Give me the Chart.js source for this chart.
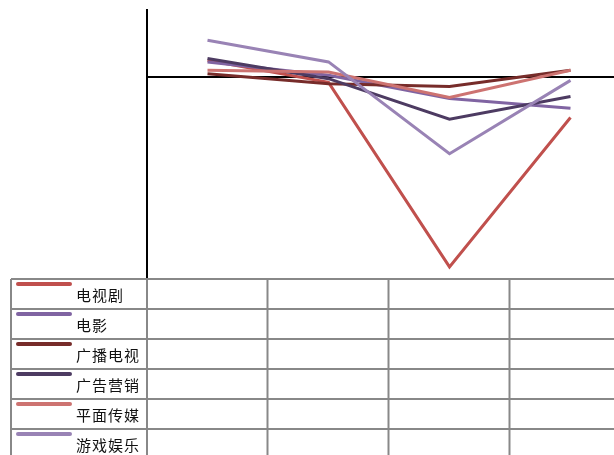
<!DOCTYPE html>
<html>
<head>
<meta charset="utf-8">
<script src="https://cdn.jsdelivr.net/npm/chart.js@4/dist/chart.umd.min.js"></script>
<style>
  html, body { margin: 0; padding: 0; overflow: hidden; background: #fff; }
  #wrap { width: 631px; height: 455px; }
</style>
</head>
<body>
<div id="wrap"><canvas id="chart" width="631" height="455"></canvas></div>
<script>
// 分类（表头未显示）
const categories = ['第1期', '第2期', '第3期', '第4期'];

// 各系列数值（增长率）
const seriesNames = ['电视剧', '电影', '广播电视', '广告营销', '平面传媒', '游戏娱乐'];
const tvDrama     = [0.050, -0.016, -0.567, -0.121];
const film        = [0.045,  0.005, -0.064, -0.093];
const broadcast   = [0.010, -0.020, -0.028,  0.020];
const advertising = [0.055, -0.005, -0.126, -0.058];
const print       = [0.020,  0.015, -0.061,  0.020];
const gaming      = [0.110,  0.045, -0.229, -0.010];
const seriesValues = [tvDrama, film, broadcast, advertising, print, gaming];

const colors = ['#c0504d', '#8064a2', '#772c2a', '#4d3b62', '#cd7371', '#9983b5'];

// 底部数据表：图例 + 空白单元格
const dataTable = {
  id: 'dataTable',
  afterDraw(chart) {
    const { ctx, chartArea, scales: { x } } = chart;
    const rowH = 30, top = chartArea.bottom + 1, left = 11;
    const step = x.getPixelForValue(1) - x.getPixelForValue(0);
    const cols = [left, chartArea.left];
    categories.forEach((c, i) => cols.push(Math.floor(x.getPixelForValue(i) + step / 2) - 0.5));

    ctx.save();
    ctx.strokeStyle = '#888';
    ctx.lineWidth = 2;
    for (let r = 0; r <= seriesNames.length; r++) {
      const y = top + r * rowH;
      ctx.beginPath();
      ctx.moveTo(left, y);
      ctx.lineTo(chartArea.right, y);
      ctx.stroke();
    }
    cols.forEach(cx => {
      ctx.beginPath();
      ctx.moveTo(cx, top);
      ctx.lineTo(cx, top + seriesNames.length * rowH);
      ctx.stroke();
    });

    ctx.font = '15px "Noto Sans CJK SC"';
    ctx.letterSpacing = '1px';
    ctx.textBaseline = 'middle';
    ctx.fillStyle = '#111';
    seriesNames.forEach((name, i) => {
      const y = top + i * rowH;
      ctx.strokeStyle = colors[i];
      ctx.lineWidth = 4;
      ctx.lineCap = 'round';
      ctx.beginPath();
      ctx.moveTo(18, y + 5);
      ctx.lineTo(70, y + 5);
      ctx.stroke();
      ctx.fillText(name, 76, y + 16);
    });
    ctx.restore();
  }
};

new Chart(document.getElementById('chart'), {
  type: 'line',
  data: {
    labels: categories,
    datasets: seriesNames.map((name, i) => ({
      label: name,
      data: seriesValues[i],
      borderColor: colors[i],
      borderWidth: 3,
      pointRadius: 0,
      tension: 0,
      order: -i
    }))
  },
  options: {
    responsive: false,
    animation: false,
    devicePixelRatio: 1,
    layout: { padding: { top: 10, bottom: 177, right: 0, left: 0 } },
    plugins: { legend: { display: false }, tooltip: { enabled: false } },
    scales: {
      x: { display: false, offset: true },
      y: {
        min: -0.6,
        max: 0.2,
        afterFit(scale) { scale.width = 147; },
        ticks: { display: false, stepSize: 0.2 },
        border: { display: true, color: '#000', width: 2 },
        grid: {
          drawTicks: false,
          lineWidth: 2,
          color: c => (c.tick && Math.abs(c.tick.value) < 1e-9 ? '#000' : 'rgba(0,0,0,0)')
        }
      }
    }
  },
  plugins: [dataTable]
});
</script>
</body>
</html>
